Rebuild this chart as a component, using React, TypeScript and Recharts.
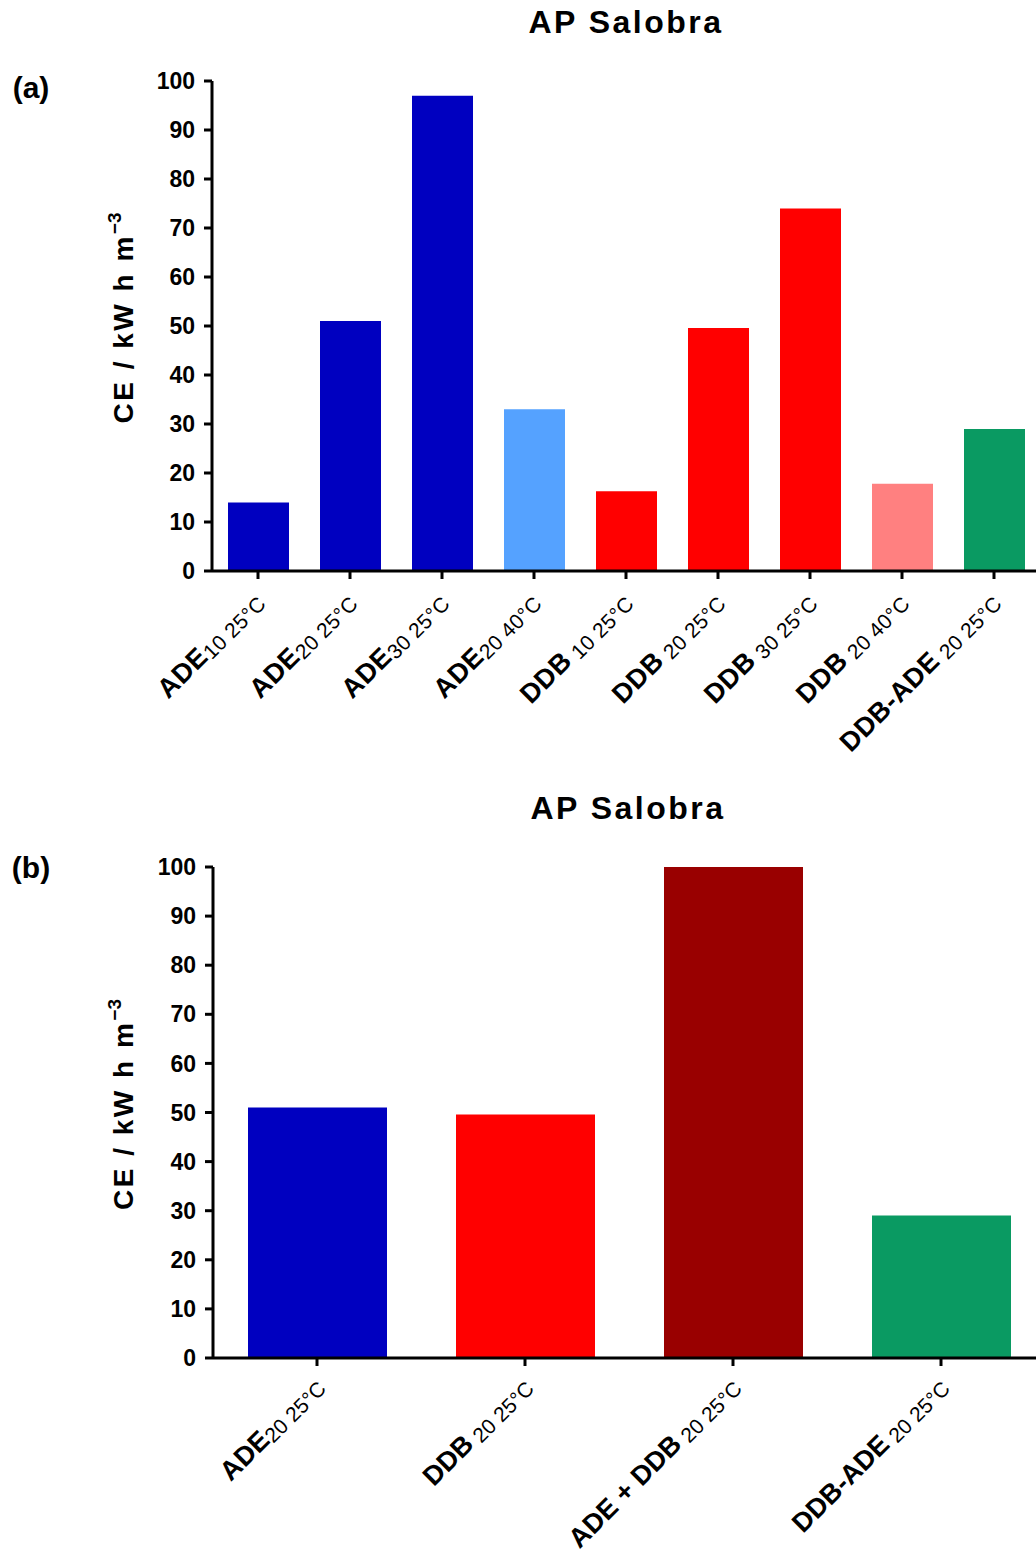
import React from 'react';
import { BarChart, Bar, XAxis, YAxis, Cell } from 'recharts';

const FONT = '"Liberation Sans", Arial, Helvetica, sans-serif';

const mainLabelsA = ['ADE', 'ADE', 'ADE', 'ADE', 'DDB', 'DDB', 'DDB', 'DDB', 'DDB-ADE'];
const subLabelsA = ['10 25°C', '20 25°C', '30 25°C', '20 40°C', ' 10 25°C', ' 20 25°C', ' 30 25°C', ' 20 40°C', ' 20 25°C'];
const valuesA = [14, 51, 97, 33, 16.3, 49.6, 74, 17.8, 29];
const colorsA = ['#0000C0', '#0000C0', '#0000C0', '#55A2FF', '#FF0000', '#FF0000', '#FF0000', '#FF8080', '#0A9A62'];

const mainLabelsB = ['ADE', 'DDB', 'ADE + DDB', 'DDB-ADE'];
const subLabelsB = ['20 25°C', ' 20 25°C', ' 20 25°C', ' 20 25°C'];
const valuesB = [51, 49.6, 100, 29];
const colorsB = ['#0000C0', '#FF0000', '#990000', '#0A9A62'];

const yTicks = [0, 10, 20, 30, 40, 50, 60, 70, 80, 90, 100];

const dataA = valuesA.map((v, i) => ({ key: i, value: v }));
const dataB = valuesB.map((v, i) => ({ key: i, value: v }));

const makeTick = (mains: string[], subs: string[], ls: number, dx: number, dy: number) => (props: any) => {
  const { x, y, payload } = props;
  const i = Number(payload.value);
  return (
    <g transform={`translate(${x + dx},${y + dy})`}>
      <text transform="rotate(-45)" textAnchor="end" fontFamily={FONT} fill="#000">
        <tspan fontWeight="bold" fontSize={27} letterSpacing={ls}>{mains[i]}</tspan>
        <tspan fontSize={21} dy={3} letterSpacing={ls * 0.6}>{subs[i]}</tspan>
      </text>
    </g>
  );
};

const YLabel = (props: any) => {
  const vb = props.viewBox || { x: 0, y: 0, width: 212, height: 490 };
  const cx = vb.x + 123;
  const cy = vb.y + vb.height / 2 - 8;
  return (
    <g transform={`translate(${cx},${cy}) rotate(-90)`}>
      <text x={0} y={0} dy="0.36em" textAnchor="middle" fontFamily={FONT} fontWeight="bold" fontSize={28} letterSpacing={2.5} fill="#000">
        CE / kW h m
        <tspan fontSize={19} dy={-12} letterSpacing={0}>−3</tspan>
      </text>
    </g>
  );
};

const axisStyle = { stroke: '#000', strokeWidth: 3 };
const yTickStyle = { fontSize: 23, fontWeight: 'bold', fill: '#000', fontFamily: FONT };

const textBase: React.CSSProperties = {
  position: 'absolute',
  fontFamily: FONT,
  fontWeight: 'bold',
  color: '#000',
  lineHeight: 1,
  whiteSpace: 'nowrap',
};

export default function App() {
  return (
    <div
      style={{
        position: 'absolute',
        left: 0,
        top: 0,
        width: 1036,
        height: 1559,
        overflow: 'hidden',
        background: '#fff',
      }}
    >
      <div style={{ ...textBase, left: 0, top: 73, fontSize: 30, width: 62, textAlign: 'center' }}>(a)</div>
      <div style={{ ...textBase, left: 426, top: 6, width: 400, textAlign: 'center', fontSize: 32, letterSpacing: 2.5 }}>AP Salobra</div>
      <div style={{ position: 'absolute', left: 0, top: 0 }}>
        <BarChart width={1050} height={780} data={dataA} margin={{ top: 81, right: 10, bottom: 0, left: 0 }}>
          <XAxis
            dataKey="key"
            type="category"
            height={209}
            interval={0}
            tickSize={8}
            axisLine={axisStyle}
            tickLine={axisStyle}
            tick={makeTick(mainLabelsA, subLabelsA, 0.5, 7, 22)}
          />
          <YAxis
            width={212}
            domain={[0, 100]}
            ticks={yTicks}
            interval={0}
            tickSize={8}
            tickMargin={9}
            axisLine={axisStyle}
            tickLine={axisStyle}
            tick={yTickStyle}
            label={<YLabel />}
          />
          <Bar dataKey="value" barSize={61} isAnimationActive={false}>
            {dataA.map((d, i) => (
              <Cell key={i} fill={colorsA[i]} />
            ))}
          </Bar>
        </BarChart>
      </div>

      <div style={{ ...textBase, left: 0, top: 853, fontSize: 30, width: 62, textAlign: 'center' }}>(b)</div>
      <div style={{ ...textBase, left: 428, top: 792, width: 400, textAlign: 'center', fontSize: 32, letterSpacing: 2.5 }}>AP Salobra</div>
      <div style={{ position: 'absolute', left: 0, top: 780 }}>
        <BarChart width={1055} height={779} data={dataB} margin={{ top: 87, right: 10, bottom: 0, left: 0 }}>
          <XAxis
            dataKey="key"
            type="category"
            height={201}
            interval={0}
            tickSize={8}
            axisLine={axisStyle}
            tickLine={axisStyle}
            tick={makeTick(mainLabelsB, subLabelsB, 0, 8, 20)}
          />
          <YAxis
            width={213}
            domain={[0, 100]}
            ticks={yTicks}
            interval={0}
            tickSize={8}
            tickMargin={9}
            axisLine={axisStyle}
            tickLine={axisStyle}
            tick={yTickStyle}
            label={<YLabel />}
          />
          <Bar dataKey="value" barSize={139} isAnimationActive={false}>
            {dataB.map((d, i) => (
              <Cell key={i} fill={colorsB[i]} />
            ))}
          </Bar>
        </BarChart>
      </div>
    </div>
  );
}
